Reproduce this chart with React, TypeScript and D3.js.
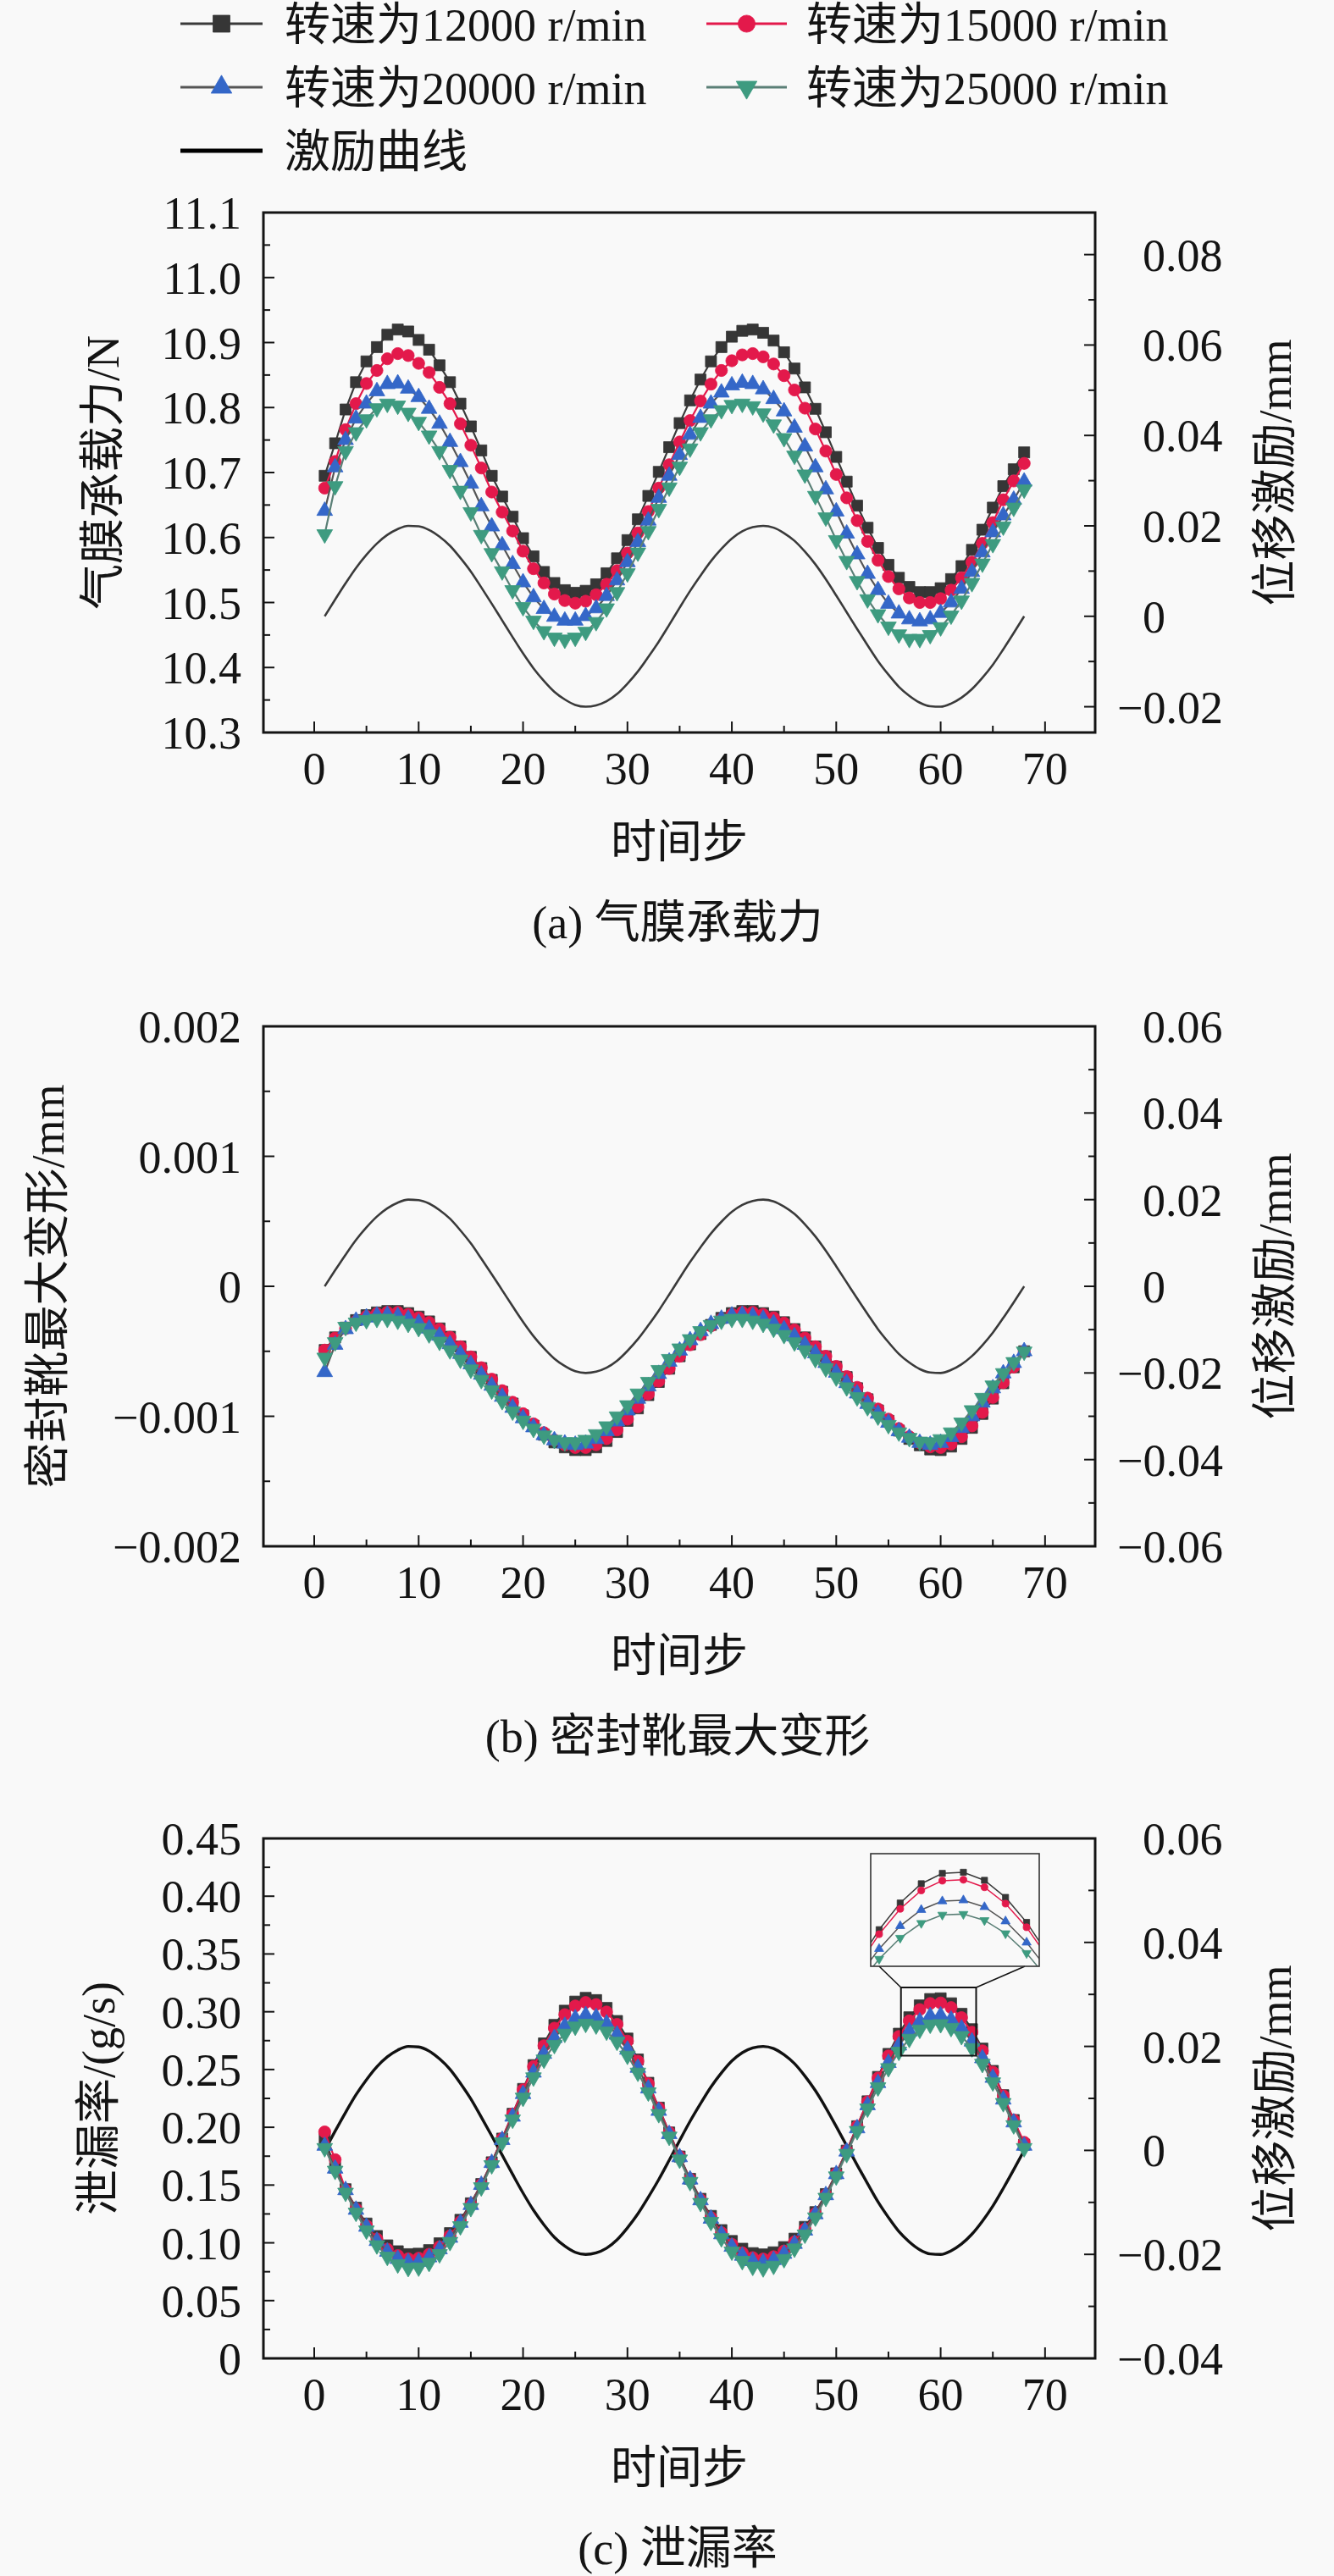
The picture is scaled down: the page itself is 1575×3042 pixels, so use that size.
import * as d3 from 'd3';

// time steps 1..68 (x of every marker)
const timeSteps = d3.range(1, 69);

// excitation curve, mm (right axes)
const excitation = [0, 0.0037, 0.0073, 0.0107, 0.0136, 0.0161, 0.018, 0.0193, 0.02, 0.0199,
  0.0191, 0.0176, 0.0156, 0.0129, 0.0099, 0.0064, 0.0028, -0.0009, -0.0046, -0.0082,
  -0.0115, -0.0143, -0.0167, -0.0184, -0.0196, -0.02, -0.0197, -0.0188, -0.0172, -0.0149,
  -0.0122, -0.009, -0.0056, -0.0019, 0.0019, 0.0056, 0.009, 0.0122, 0.0149, 0.0172,
  0.0188, 0.0197, 0.02, 0.0196, 0.0184, 0.0167, 0.0143, 0.0115, 0.0082, 0.0046,
  0.0009, -0.0028, -0.0064, -0.0099, -0.0129, -0.0156, -0.0176, -0.0191, -0.0199, -0.02,
  -0.0193, -0.018, -0.0161, -0.0136, -0.0107, -0.0073, -0.0037, 0];

// (a) film load, N
const load12000 = [10.695, 10.745, 10.797, 10.839, 10.871, 10.893, 10.912, 10.92, 10.917, 10.904,
  10.889, 10.865, 10.839, 10.806, 10.771, 10.734, 10.695, 10.663, 10.632, 10.599,
  10.571, 10.547, 10.53, 10.519, 10.515, 10.518, 10.528, 10.545, 10.568, 10.596,
  10.628, 10.664, 10.701, 10.739, 10.776, 10.811, 10.843, 10.871, 10.893, 10.909,
  10.918, 10.92, 10.915, 10.903, 10.885, 10.86, 10.831, 10.798, 10.762, 10.724,
  10.686, 10.649, 10.615, 10.584, 10.558, 10.538, 10.524, 10.516, 10.516, 10.522,
  10.536, 10.556, 10.581, 10.612, 10.646, 10.679, 10.705, 10.731];
const load15000 = [10.676, 10.717, 10.766, 10.806, 10.837, 10.857, 10.875, 10.883, 10.88, 10.868,
  10.854, 10.831, 10.806, 10.775, 10.742, 10.707, 10.67, 10.639, 10.61, 10.579,
  10.552, 10.53, 10.513, 10.503, 10.499, 10.502, 10.512, 10.528, 10.549, 10.576,
  10.607, 10.64, 10.676, 10.712, 10.747, 10.78, 10.81, 10.836, 10.857, 10.872,
  10.881, 10.883, 10.878, 10.867, 10.849, 10.827, 10.799, 10.767, 10.733, 10.697,
  10.661, 10.626, 10.594, 10.565, 10.54, 10.521, 10.507, 10.5, 10.5, 10.506,
  10.519, 10.538, 10.562, 10.591, 10.623, 10.658, 10.687, 10.714];
const load20000 = [10.641, 10.708, 10.75, 10.783, 10.806, 10.825, 10.836, 10.837, 10.829, 10.816,
  10.798, 10.775, 10.747, 10.716, 10.683, 10.648, 10.617, 10.588, 10.559, 10.531,
  10.508, 10.49, 10.478, 10.472, 10.472, 10.479, 10.491, 10.51, 10.534, 10.562,
  10.593, 10.626, 10.661, 10.695, 10.727, 10.758, 10.784, 10.806, 10.823, 10.834,
  10.838, 10.836, 10.828, 10.813, 10.794, 10.769, 10.74, 10.708, 10.674, 10.64,
  10.606, 10.574, 10.544, 10.519, 10.498, 10.483, 10.474, 10.471, 10.474, 10.484,
  10.5, 10.521, 10.547, 10.577, 10.608, 10.634, 10.658, 10.686];
const load25000 = [10.605, 10.679, 10.733, 10.762, 10.782, 10.799, 10.806, 10.803, 10.792, 10.778,
  10.757, 10.733, 10.704, 10.672, 10.639, 10.604, 10.576, 10.548, 10.519, 10.493,
  10.472, 10.456, 10.446, 10.443, 10.446, 10.455, 10.47, 10.491, 10.516, 10.545,
  10.577, 10.61, 10.644, 10.677, 10.709, 10.737, 10.762, 10.782, 10.796, 10.804,
  10.806, 10.802, 10.791, 10.774, 10.753, 10.726, 10.697, 10.664, 10.631, 10.596,
  10.564, 10.533, 10.505, 10.482, 10.463, 10.451, 10.444, 10.444, 10.45, 10.462,
  10.48, 10.503, 10.53, 10.56, 10.59, 10.617, 10.646, 10.674];

// (b) max boot deformation, mm
const deform12000 = [-490e-6, -393e-6, -318e-6, -260e-6, -222e-6, -201e-6, -190e-6, -190e-6, -206e-6, -233e-6,
  -270e-6, -324e-6, -388e-6, -463e-6, -543e-6, -629e-6, -720e-6, -811e-6, -902e-6, -993e-6,
  -1073e-6, -1142e-6, -1201e-6, -1239e-6, -1260e-6, -1260e-6, -1239e-6, -1190e-6, -1121e-6, -1035e-6,
  -939e-6, -837e-6, -736e-6, -634e-6, -538e-6, -447e-6, -367e-6, -297e-6, -243e-6, -206e-6,
  -190e-6, -190e-6, -206e-6, -233e-6, -276e-6, -329e-6, -393e-6, -463e-6, -538e-6, -618e-6,
  -698e-6, -784e-6, -869e-6, -955e-6, -1035e-6, -1110e-6, -1174e-6, -1223e-6, -1255e-6, -1260e-6,
  -1233e-6, -1174e-6, -1089e-6, -982e-6, -864e-6, -746e-6, -623e-6, -500e-6];
const deform15000 = [-491e-6, -398e-6, -325e-6, -268e-6, -231e-6, -210e-6, -200e-6, -200e-6, -216e-6, -242e-6,
  -278e-6, -330e-6, -392e-6, -465e-6, -543e-6, -626e-6, -715e-6, -803e-6, -892e-6, -980e-6,
  -1058e-6, -1126e-6, -1183e-6, -1219e-6, -1240e-6, -1240e-6, -1219e-6, -1172e-6, -1105e-6, -1022e-6,
  -928e-6, -829e-6, -730e-6, -632e-6, -538e-6, -450e-6, -372e-6, -304e-6, -252e-6, -216e-6,
  -200e-6, -200e-6, -216e-6, -242e-6, -283e-6, -335e-6, -398e-6, -465e-6, -538e-6, -616e-6,
  -694e-6, -777e-6, -860e-6, -944e-6, -1022e-6, -1094e-6, -1157e-6, -1204e-6, -1235e-6, -1240e-6,
  -1214e-6, -1157e-6, -1074e-6, -970e-6, -855e-6, -741e-6, -621e-6, -502e-6];
const deform20000 = [-660e-6, -450e-6, -330e-6, -265e-6, -240e-6, -225e-6, -220e-6, -230e-6, -250e-6, -280e-6,
  -325e-6, -380e-6, -445e-6, -520e-6, -600e-6, -680e-6, -765e-6, -850e-6, -935e-6, -1015e-6,
  -1085e-6, -1145e-6, -1185e-6, -1210e-6, -1220e-6, -1210e-6, -1175e-6, -1115e-6, -1040e-6, -955e-6,
  -865e-6, -770e-6, -675e-6, -580e-6, -495e-6, -415e-6, -345e-6, -290e-6, -250e-6, -225e-6,
  -220e-6, -230e-6, -250e-6, -285e-6, -330e-6, -385e-6, -450e-6, -515e-6, -590e-6, -665e-6,
  -745e-6, -825e-6, -905e-6, -980e-6, -1050e-6, -1115e-6, -1165e-6, -1205e-6, -1220e-6, -1205e-6,
  -1160e-6, -1090e-6, -1000e-6, -895e-6, -785e-6, -670e-6, -590e-6, -500e-6];
const deform25000 = [-549e-6, -430e-6, -312e-6, -279e-6, -260e-6, -250e-6, -250e-6, -264e-6, -288e-6, -321e-6,
  -369e-6, -426e-6, -492e-6, -564e-6, -640e-6, -720e-6, -801e-6, -882e-6, -963e-6, -1034e-6,
  -1096e-6, -1148e-6, -1181e-6, -1200e-6, -1200e-6, -1181e-6, -1138e-6, -1077e-6, -1001e-6, -915e-6,
  -825e-6, -735e-6, -644e-6, -559e-6, -478e-6, -407e-6, -345e-6, -298e-6, -264e-6, -250e-6,
  -250e-6, -264e-6, -288e-6, -326e-6, -374e-6, -431e-6, -492e-6, -559e-6, -630e-6, -701e-6,
  -777e-6, -853e-6, -929e-6, -1001e-6, -1067e-6, -1124e-6, -1167e-6, -1195e-6, -1200e-6, -1176e-6,
  -1124e-6, -1048e-6, -953e-6, -858e-6, -763e-6, -668e-6, -583e-6, -502e-6];

// (c) leakage rate, g/s
const leak12000 = [0.19, 0.1649, 0.1464, 0.1304, 0.1167, 0.1059, 0.0978, 0.0927, 0.0902, 0.0906,
  0.0937, 0.0996, 0.1084, 0.1199, 0.1342, 0.1509, 0.1697, 0.1902, 0.2117, 0.2332,
  0.2538, 0.2726, 0.2886, 0.3009, 0.3088, 0.312, 0.3101, 0.3033, 0.292, 0.2768,
  0.2587, 0.2385, 0.217, 0.1955, 0.1747, 0.1554, 0.1381, 0.1233, 0.111, 0.1016,
  0.0949, 0.0911, 0.09, 0.0918, 0.0963, 0.1036, 0.1138, 0.1266, 0.1422, 0.1601,
  0.1798, 0.2009, 0.2225, 0.2436, 0.2635, 0.281, 0.2952, 0.3055, 0.311, 0.3116,
  0.3073, 0.2982, 0.2849, 0.2681, 0.2488, 0.2278, 0.2063, 0.185];
const leak15000 = [0.196, 0.172, 0.1459, 0.1293, 0.1148, 0.1033, 0.0945, 0.089, 0.0862, 0.0867,
  0.0901, 0.0965, 0.106, 0.1182, 0.1332, 0.1505, 0.1696, 0.1902, 0.2115, 0.2325,
  0.2525, 0.2706, 0.2858, 0.2975, 0.305, 0.308, 0.3062, 0.2998, 0.2891, 0.2746,
  0.2572, 0.2377, 0.2167, 0.1955, 0.1747, 0.1551, 0.1373, 0.1218, 0.1088, 0.0987,
  0.0914, 0.0872, 0.086, 0.088, 0.0929, 0.1008, 0.1118, 0.1253, 0.1415, 0.1599,
  0.1798, 0.2008, 0.2221, 0.2426, 0.2618, 0.2786, 0.2921, 0.3019, 0.3071, 0.3076,
  0.3036, 0.2949, 0.2823, 0.2662, 0.2477, 0.2273, 0.2062, 0.187];
const leak20000 = [0.184, 0.1642, 0.1456, 0.1286, 0.1139, 0.1016, 0.0923, 0.0861, 0.0833, 0.0836,
  0.0874, 0.0944, 0.1044, 0.1173, 0.1327, 0.1501, 0.1691, 0.189, 0.2092, 0.2288,
  0.2473, 0.2636, 0.2773, 0.2877, 0.2943, 0.297, 0.2954, 0.2898, 0.2802, 0.2672,
  0.2515, 0.2336, 0.2142, 0.1941, 0.1741, 0.1548, 0.1368, 0.1209, 0.1074, 0.0966,
  0.0888, 0.0842, 0.083, 0.0851, 0.0905, 0.0991, 0.1106, 0.1247, 0.1412, 0.1594,
  0.179, 0.1991, 0.2191, 0.2383, 0.2557, 0.2708, 0.283, 0.2916, 0.2962, 0.2967,
  0.2931, 0.2855, 0.2742, 0.2597, 0.2428, 0.224, 0.2042, 0.184];
const leak25000 = [0.182, 0.1624, 0.1434, 0.1261, 0.1107, 0.0979, 0.088, 0.0814, 0.0783, 0.0787,
  0.0827, 0.0902, 0.1008, 0.1144, 0.1302, 0.1481, 0.1672, 0.187, 0.2067, 0.2256,
  0.2432, 0.2586, 0.2713, 0.281, 0.2872, 0.2896, 0.2882, 0.2829, 0.2741, 0.262,
  0.2473, 0.2302, 0.2115, 0.1919, 0.1721, 0.1527, 0.1346, 0.1181, 0.104, 0.0925,
  0.0843, 0.0794, 0.078, 0.0802, 0.086, 0.0951, 0.1072, 0.122, 0.139, 0.1575,
  0.177, 0.1968, 0.2163, 0.2346, 0.2512, 0.2654, 0.2766, 0.2845, 0.2889, 0.2893,
  0.286, 0.279, 0.2685, 0.2549, 0.2389, 0.221, 0.2018, 0.182];

const seriesNames = ['转速为12000 r/min', '转速为15000 r/min', '转速为20000 r/min', '转速为25000 r/min'];
const excitationName = '激励曲线';

const xTicks = [0, 10, 20, 30, 40, 50, 60, 70];
const loadTicks = [10.3, 10.4, 10.5, 10.6, 10.7, 10.8, 10.9, 11.0, 11.1];
const deformTicks = [-0.002, -0.001, 0, 0.001, 0.002];
const leakTicks = [0, 0.05, 0.1, 0.15, 0.2, 0.25, 0.3, 0.35, 0.4, 0.45];
const dispTicksA = [-0.02, 0, 0.02, 0.04, 0.06, 0.08];
const dispTicksB = [-0.06, -0.04, -0.02, 0, 0.02, 0.04, 0.06];
const dispTicksC = [-0.04, -0.02, 0, 0.02, 0.04, 0.06];

// styling
const BG = '#f9f9f9';
const INK = '#141414';
const markerColors = ['#363636', '#e3194b', '#3467c8', '#3e9b80'];
const lineColors = ['#3a3a3a', '#e3194b', '#555555', '#5a7f76'];
const LATIN = "'Liberation Serif', 'Times New Roman', serif";
const MIXED = "'Liberation Serif', 'Noto Sans CJK SC', serif";
const FS = 54;

const X_RANGE: [number, number] = [311, 1293];
const X_DOMAIN: [number, number] = [-4.87, 74.8];
const PLOT_H = 614;

const symbolTypes = [d3.symbolSquare, d3.symbolCircle, d3.symbolTriangle, d3.symbolTriangle];
const plotSizes = [170, 160, 150, 150];
const legendSizes = [400, 320, 260, 260];
const insetSizes = [52, 52, 50, 50];

const minorsOf = (t: number[]) => t.slice(1).map((v, i) => (v + t[i]) / 2);
const fmtZero = (spec: string) => (v: number) => (Math.abs(v) < 1e-12 ? '0' : d3.format(spec)(v));

type Panel = {
  top: number;
  yDomain: [number, number];
  yTicks: number[];
  yFmt: (v: number) => string;
  y2Domain: [number, number];
  y2Ticks: number[];
  yTitle: string;
  yTitleX: number;
  caption: string;
  series: number[][];
  excColor: string;
  excWidth: number;
  inset?: boolean;
};

const panels: Panel[] = [
  {
    top: 251, yDomain: [10.3, 11.1], yTicks: loadTicks, yFmt: d3.format('.1f'),
    y2Domain: [-0.0257, 0.0893], y2Ticks: dispTicksA, yTitle: '气膜承载力/N', yTitleX: 120,
    caption: '(a) 气膜承载力', series: [load12000, load15000, load20000, load25000],
    excColor: '#3a3a3a', excWidth: 2.6,
  },
  {
    top: 1212, yDomain: [-0.002, 0.002], yTicks: deformTicks, yFmt: fmtZero('.3f'),
    y2Domain: [-0.06, 0.06], y2Ticks: dispTicksB, yTitle: '密封靴最大变形/mm', yTitleX: 55,
    caption: '(b) 密封靴最大变形', series: [deform12000, deform15000, deform20000, deform25000],
    excColor: '#3a3a3a', excWidth: 2.6,
  },
  {
    top: 2171, yDomain: [0, 0.45], yTicks: leakTicks, yFmt: fmtZero('.2f'),
    y2Domain: [-0.04, 0.06], y2Ticks: dispTicksC, yTitle: '泄漏率/(g/s)', yTitleX: 115,
    caption: '(c) 泄漏率', series: [leak12000, leak15000, leak20000, leak25000],
    excColor: '#111111', excWidth: 3.4, inset: true,
  },
];

function Marker({ i, x, y, size }: { i: number; x: number; y: number; size: number }) {
  const d = d3.symbol(symbolTypes[i], size)() || '';
  return (
    <path
      d={d}
      transform={`translate(${x},${y})${i === 3 ? ' rotate(180)' : ''}`}
      fill={markerColors[i]}
      stroke={markerColors[i]}
      strokeWidth={0.8}
    />
  );
}

function SeriesMarks({ values, i, x, y, size, lw }: any) {
  const line = d3.line<number>().x((_, k) => x(timeSteps[k])).y((v) => y(v));
  return (
    <g>
      <path d={line(values) || ''} fill="none" stroke={lineColors[i]} strokeWidth={lw} />
      {values.map((v: number, k: number) => (
        <Marker key={k} i={i} x={x(timeSteps[k])} y={y(v)} size={size} />
      ))}
    </g>
  );
}

function Inset({ series, x, y }: any) {
  // zoomed window of the second leakage peak
  const zoomX: [number, number] = [56.2, 63.4];
  const zoomY: [number, number] = [0.262, 0.321];
  const box = { left: 1028, right: 1227, top: 2189, bottom: 2322 };
  const ix = d3.scaleLinear().domain([55.6, 63.6]).range([box.left, box.right]);
  const iy = d3.scaleLinear().domain([0.2615, 0.3215]).range([box.bottom, box.top]);
  const sx0 = x(zoomX[0]), sx1 = x(zoomX[1]), sy0 = y(zoomY[1]), sy1 = y(zoomY[0]);
  return (
    <g>
      <defs>
        <clipPath id="insetClip">
          <rect x={box.left} y={box.top} width={box.right - box.left} height={box.bottom - box.top} />
        </clipPath>
      </defs>
      <rect x={sx0} y={sy0} width={sx1 - sx0} height={sy1 - sy0} fill="none" stroke={INK} strokeWidth={2} />
      <line x1={box.left + 10} y1={box.bottom} x2={sx0} y2={sy0} stroke={INK} strokeWidth={1.6} />
      <line x1={box.right - 17} y1={box.bottom} x2={sx1} y2={sy0} stroke={INK} strokeWidth={1.6} />
      <g clipPath="url(#insetClip)">
        {series.map((vals: number[], i: number) => (
          <SeriesMarks key={i} values={vals} i={i} x={ix} y={iy} size={insetSizes[i]} lw={1.5} />
        ))}
      </g>
      <rect x={box.left} y={box.top} width={box.right - box.left} height={box.bottom - box.top}
        fill="none" stroke="#333" strokeWidth={1.6} />
    </g>
  );
}

function PanelView({ p }: { p: Panel }) {
  const bottom = p.top + PLOT_H;
  const mid = (p.top + bottom) / 2;
  const x = d3.scaleLinear().domain(X_DOMAIN).range(X_RANGE);
  const y = d3.scaleLinear().domain(p.yDomain).range([bottom, p.top]);
  const y2 = d3.scaleLinear().domain(p.y2Domain).range([bottom, p.top]);
  const excLine = d3.line<number>().x((_, k) => x(timeSteps[k])).y((v) => y2(v)).curve(d3.curveMonotoneX);
  const rFmt = fmtZero('.2f');
  const [L, R] = X_RANGE;
  const MAJ = 13, MIN = 8;
  return (
    <g>
      {/* ticks */}
      {xTicks.map((t) => (
        <line key={'xt' + t} x1={x(t)} x2={x(t)} y1={bottom} y2={bottom - MAJ} stroke={INK} strokeWidth={2} />
      ))}
      {minorsOf(xTicks).map((t) => (
        <line key={'xm' + t} x1={x(t)} x2={x(t)} y1={bottom} y2={bottom - MIN} stroke={INK} strokeWidth={2} />
      ))}
      {p.yTicks.map((t) => (
        <line key={'yt' + t} x1={L} x2={L + MAJ} y1={y(t)} y2={y(t)} stroke={INK} strokeWidth={2} />
      ))}
      {minorsOf(p.yTicks).map((t) => (
        <line key={'ym' + t} x1={L} x2={L + MIN} y1={y(t)} y2={y(t)} stroke={INK} strokeWidth={2} />
      ))}
      {p.y2Ticks.map((t) => (
        <line key={'rt' + t} x1={R} x2={R - MAJ} y1={y2(t)} y2={y2(t)} stroke={INK} strokeWidth={2} />
      ))}
      {minorsOf(p.y2Ticks).map((t) => (
        <line key={'rm' + t} x1={R} x2={R - MIN} y1={y2(t)} y2={y2(t)} stroke={INK} strokeWidth={2} />
      ))}

      {/* tick labels */}
      <g fontFamily={LATIN} fontSize={FS} fill={INK}>
        {xTicks.map((t) => (
          <text key={'xl' + t} x={x(t)} y={bottom + 61} textAnchor="middle">{t}</text>
        ))}
        {p.yTicks.map((t) => (
          <text key={'yl' + t} x={285} y={y(t) + 19} textAnchor="end">{p.yFmt(t)}</text>
        ))}
        {p.y2Ticks.map((t) => {
          const s = rFmt(t);
          return (
            <text key={'rl' + t} x={s.startsWith('−') ? 1349 - 30 : 1349} y={y2(t) + 19}>{s}</text>
          );
        })}
      </g>

      {/* data */}
      <path d={excLine(excitation) || ''} fill="none" stroke={p.excColor} strokeWidth={p.excWidth} />
      {p.series.map((vals, i) => (
        <SeriesMarks key={i} values={vals} i={i} x={x} y={y} size={plotSizes[i]} lw={2.2} />
      ))}
      {p.inset && <Inset series={p.series} x={x} y={y} />}

      {/* frame */}
      <rect x={L} y={p.top} width={R - L} height={PLOT_H} fill="none" stroke={INK} strokeWidth={3} />

      {/* titles */}
      <g fontFamily={MIXED} fontSize={FS} fill={INK}>
        <text transform={`translate(${p.yTitleX + 20},${mid}) rotate(-90)`} textAnchor="middle">{p.yTitle}</text>
        <text transform={`translate(1524,${mid}) rotate(-90)`} textAnchor="middle">位移激励/mm</text>
        <text x={802} y={bottom + 148} textAnchor="middle">时间步</text>
        <text x={800} y={bottom + 243} textAnchor="middle">{p.caption}</text>
      </g>
    </g>
  );
}

function Legend() {
  const rows = [28, 103, 178];
  const cols = [
    { x1: 213, x2: 310, tx: 336 },
    { x1: 834, x2: 929, tx: 952 },
  ];
  return (
    <g fontFamily={MIXED} fontSize={FS} fill={INK}>
      {seriesNames.map((name, i) => {
        const c = cols[i % 2];
        const cy = rows[Math.floor(i / 2)];
        return (
          <g key={name}>
            <line x1={c.x1} x2={c.x2} y1={cy} y2={cy} stroke={lineColors[i]} strokeWidth={3} />
            <Marker i={i} x={(c.x1 + c.x2) / 2} y={cy} size={legendSizes[i]} />
            <text x={c.tx} y={cy + 20}>{name}</text>
          </g>
        );
      })}
      <line x1={cols[0].x1} x2={cols[0].x2} y1={rows[2]} y2={rows[2]} stroke="#000" strokeWidth={5} />
      <text x={cols[0].tx} y={rows[2] + 20}>{excitationName}</text>
    </g>
  );
}

export default function App() {
  return (
    <svg
      width={1575}
      height={3042}
      viewBox="0 0 1575 3042"
      style={{ position: 'absolute', left: 0, top: 0, display: 'block' }}
    >
      <rect x={0} y={0} width={1575} height={3042} fill={BG} />
      <Legend />
      {panels.map((p, i) => (
        <PanelView key={i} p={p} />
      ))}
    </svg>
  );
}
